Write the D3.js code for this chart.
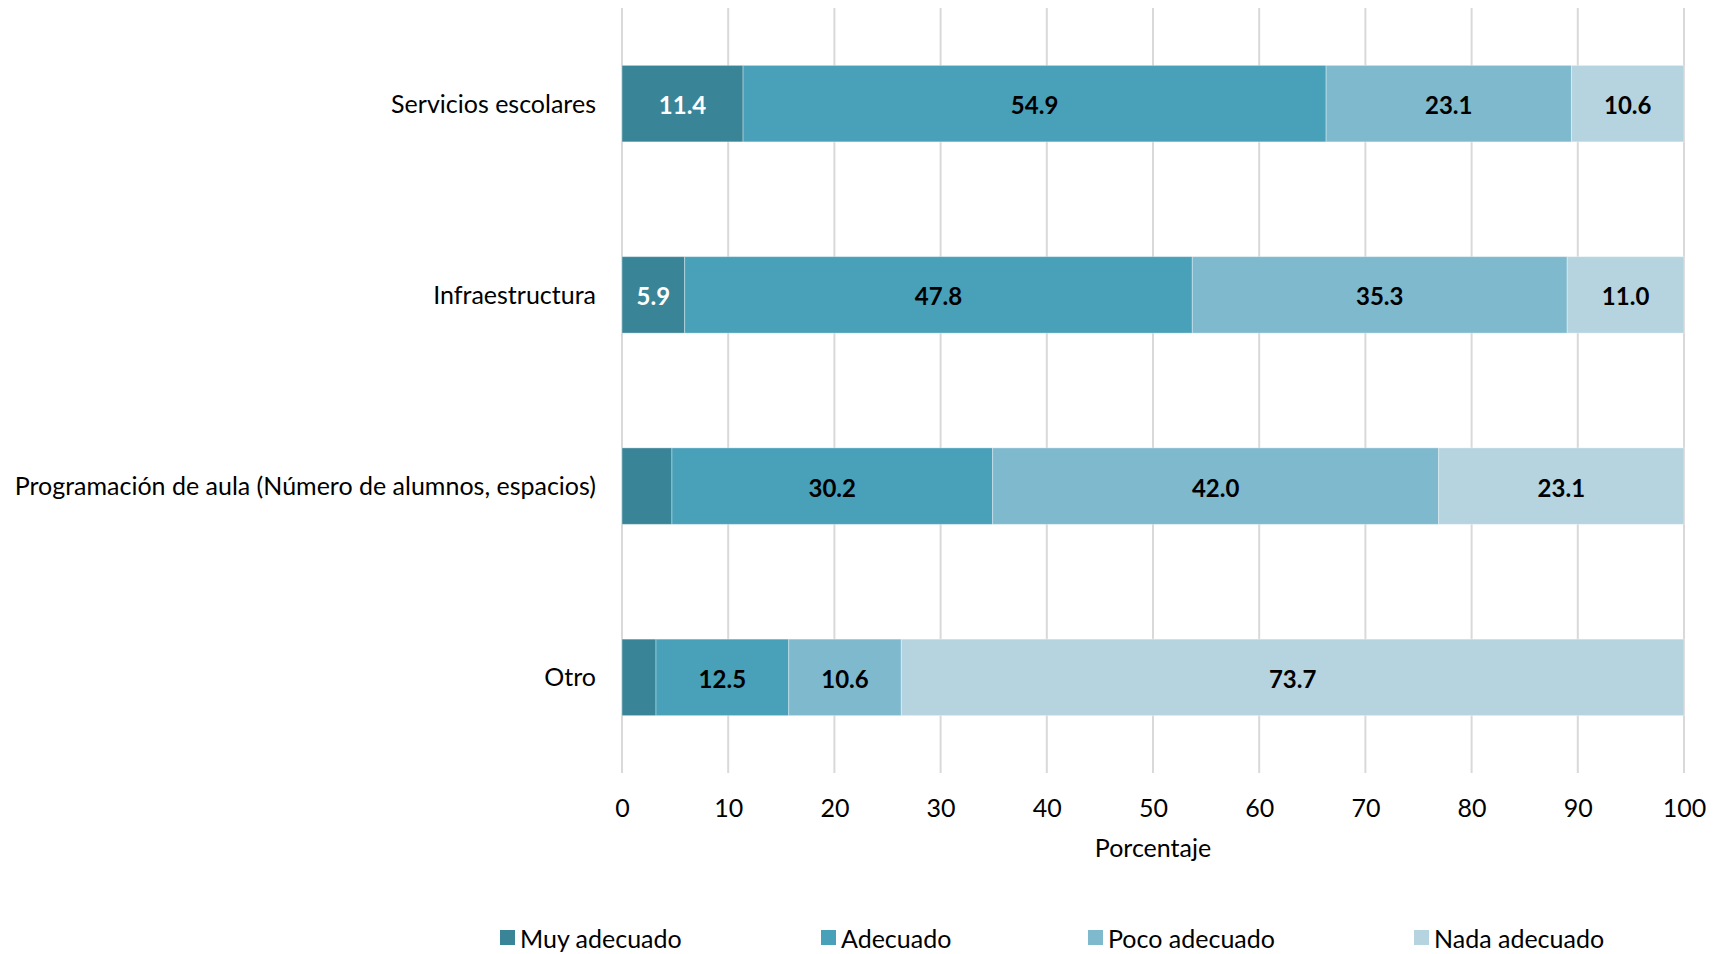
<!DOCTYPE html>
<html><head><meta charset="utf-8">
<script src="https://cdn.jsdelivr.net/npm/d3@7"></script>
<style>body{margin:0;background:#fff;} svg{display:block;font-family:Lato, "Open Sans", sans-serif;}</style>
</head><body>
<svg id="c" width="1721" height="954"></svg>
<script>
const categories = ["Servicios escolares","Infraestructura","Programación de aula (Número de alumnos, espacios)","Otro"];
const seriesNames = ["Muy adecuado","Adecuado","Poco adecuado","Nada adecuado"];
const muyAdecuado = [11.4, 5.9, 4.7, 3.2];
const adecuado = [54.9, 47.8, 30.2, 12.5];
const pocoAdecuado = [23.1, 35.3, 42.0, 10.6];
const nadaAdecuado = [10.6, 11.0, 23.1, 73.7];
const showLabel = [[true,true,true,true],[true,true,true,true],[false,true,true,true],[false,true,true,true]];
const xTicks = [0,10,20,30,40,50,60,70,80,90,100];
const colors = ["#3A8497","#48A0B9","#7EB9CE","#B5D4DF"];
const labelColors = ["#fff","#000","#000","#000"];

const svg = d3.select("#c");
const x = d3.scaleLinear().domain([0,100]).range([622,1684]);
const y = d3.scaleBand().domain(categories).range([8,773]).paddingInner(0.6).paddingOuter(0.3);

// gridlines
svg.append("g").selectAll("line").data(xTicks).join("line")
  .attr("x1",d=>x(d)).attr("x2",d=>x(d)).attr("y1",8).attr("y2",773)
  .attr("stroke","#d9d9d9").attr("stroke-width",2);

const rows = categories.map((c,i)=>({cat:c, i, Muy:muyAdecuado[i], Ade:adecuado[i], Poco:pocoAdecuado[i], Nada:nadaAdecuado[i]}));
const keys = ["Muy","Ade","Poco","Nada"];
const stack = d3.stack().keys(keys)(rows);

stack.forEach((layer,k)=>{
  const g = svg.append("g");
  g.selectAll("rect").data(layer).join("rect")
    .attr("x",d=>x(d[0])).attr("width",d=>x(d[1])-x(d[0]))
    .attr("y",d=>y(d.data.cat)).attr("height",y.bandwidth())
    .attr("fill",colors[k]).attr("stroke","rgba(255,255,255,0.35)").attr("stroke-width",1);
  g.selectAll("text").data(layer.filter(d=>showLabel[d.data.i][k])).join("text")
    .attr("x",d=>(x(d[0])+x(d[1]))/2).attr("y",d=>y(d.data.cat)+y.bandwidth()/2+1)
    .attr("text-anchor","middle").attr("dominant-baseline","central")
    .attr("font-weight","bold").attr("font-size",24).attr("fill",labelColors[k])
    .text(d=>(d[1]-d[0]).toFixed(1));
});

// category labels
svg.append("g").selectAll("text").data(categories).join("text")
  .attr("x",596).attr("y",d=>y(d)+y.bandwidth()/2-1)
  .attr("text-anchor","end").attr("dominant-baseline","central")
  .attr("font-size",25).attr("fill","#000").text(d=>d);

// x axis
const ax = svg.append("g").attr("transform","translate(0,773)")
  .call(d3.axisBottom(x).tickValues(xTicks).tickSize(0).tickPadding(26));
ax.select(".domain").remove();
ax.selectAll("text").attr("font-size",25).attr("fill","#000").attr("font-family","Lato, sans-serif");

svg.append("text").attr("x",x(50)).attr("y",857).attr("text-anchor","middle")
  .attr("font-size",25).attr("fill","#000").text("Porcentaje");

// legend
const legX = [500, 821, 1088, 1414];
const lg = svg.append("g").selectAll("g").data(seriesNames).join("g")
  .attr("transform",(d,i)=>`translate(${legX[i]},938)`);
lg.append("rect").attr("x",0).attr("y",-8).attr("width",15).attr("height",15).attr("fill",(d,i)=>colors[i]);
lg.append("text").attr("x",20).attr("y",0).attr("dominant-baseline","central")
  .attr("font-size",25).attr("fill","#000").text(d=>d);
</script>
</body></html>
